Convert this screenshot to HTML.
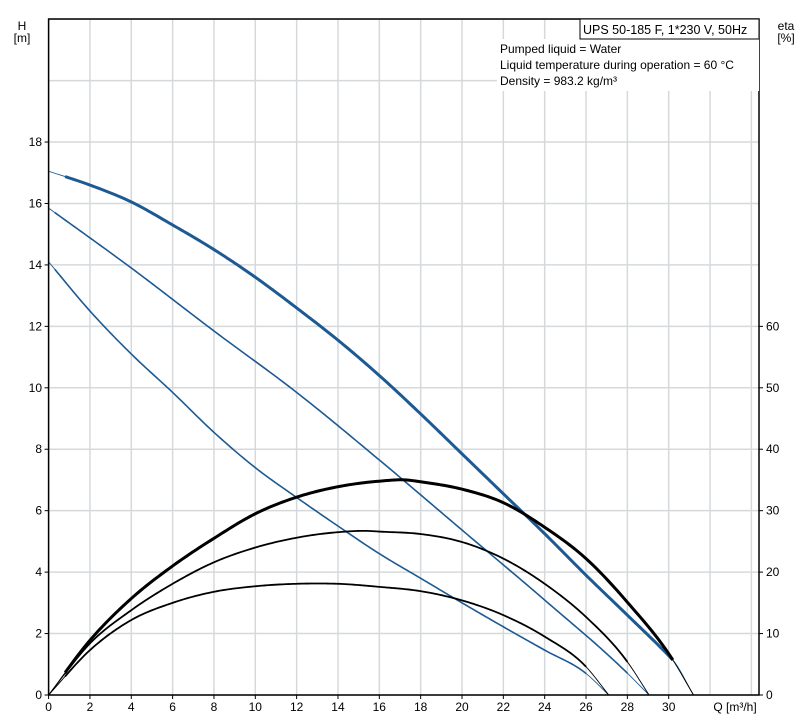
<!DOCTYPE html>
<html><head><meta charset="utf-8"><style>
body{margin:0;background:#fff;}
svg{display:block;font-family:"Liberation Sans",sans-serif;}
</style></head><body>
<svg id="chart" width="806" height="717" viewBox="0 0 806 717">
<g id="grid"></g>
<g id="curves"></g>
<g id="axes"></g>
<rect x="497" y="39" width="262" height="52" fill="#fff"/>
<rect x="580" y="19" width="179" height="20" fill="#fff" stroke="#000" stroke-width="1"/>
<text x="583" y="34" font-size="12.5">UPS 50-185 F, 1*230 V, 50Hz</text>
<text x="500" y="53" font-size="12">Pumped liquid = Water</text>
<text x="500" y="69" font-size="12">Liquid temperature during operation = 60 °C</text>
<text x="500" y="85" font-size="12">Density = 983.2 kg/m³</text>
<text x="22" y="30" font-size="12" text-anchor="middle">H</text>
<text x="22" y="42" font-size="12" text-anchor="middle">[m]</text>
<text x="786" y="30" font-size="12" text-anchor="middle">eta</text>
<text x="786" y="42" font-size="12" text-anchor="middle">[%]</text>
<text x="735" y="711" font-size="12" text-anchor="middle">Q [m³/h]</text>
</svg>
<script>
const xTicks=[0,2,4,6,8,10,12,14,16,18,20,22,24,26,28,30];
const xGrid=[0,2,4,6,8,10,12,14,16,18,20,22,24,26,28,30,32,34];
const yTicks=[0,2,4,6,8,10,12,14,16,18];
const yGrid=[0,2,4,6,8,10,12,14,16,18,20,22];
const etaTicks=[0,10,20,30,40,50,60];

const qH3=[0,2,4,6,8,10,12,14,16,18,20,22,24,26,28,30,30.2,31.2];
const h3=[17.05,16.6,16.05,15.3,14.5,13.6,12.6,11.55,10.4,9.15,7.85,6.55,5.25,3.9,2.6,1.28,1.14,0];
const qH2=[0,4,8,12,16,20,24,28,29.05];
const h2=[15.85,13.9,11.85,9.85,7.65,5.37,3.09,0.71,0];
const qH1=[0,2,4,6,8,10,12,14,16,18,20,22,24,26,27.1];
const h1=[14.1,12.5,11.1,9.85,8.55,7.4,6.43,5.5,4.6,3.8,3.0,2.22,1.46,0.7,0];
const qE3=[0,2,4,6,8,10,12,14,16,17.3,18,20,22,24,26,28,30.2,31.2];
const e3=[0,8.9,15.7,21,25.5,29.5,32.2,33.9,34.8,35,34.7,33.5,31.3,27.3,22.2,15.1,5.7,0];
const qE2=[0,2,4,6,8,10,12,14,15.5,16,18,20,22,24,26,28,29.05];
const e2=[0,8.4,13.8,18.1,21.6,24,25.6,26.5,26.7,26.6,26.2,24.9,22.2,18.1,12.7,5.4,0];
const qE1=[0,2,4,6,8,10,12,13,14,16,18,20,22,24,26,27.1];
const e1=[0,7.3,12.2,15,16.8,17.7,18.1,18.15,18.1,17.6,16.9,15.4,13,9.5,4.6,0];
const thickRanges={h3:[0.8,30.2],h2:[0.3,28.0],h1:[0.3,26.0],e3:[0.8,30.2],e2:[0.8,28.0],e1:[0.8,26.0]};

const X0=48.6,XS=20.67,Y0=695,YS=30.72;
const x=q=>X0+q*XS, y=h=>Y0-h*YS, ye=e=>y(e/5);
const NS='http://www.w3.org/2000/svg';
function mk(tag,attrs,parent){const el=document.createElementNS(NS,tag);for(const k in attrs)el.setAttribute(k,attrs[k]);parent.appendChild(el);return el;}
const grid=document.getElementById('grid'),axes=document.getElementById('axes'),curves=document.getElementById('curves');
xGrid.forEach(v=>{const l=mk('line',{x1:x(v),x2:x(v),y1:19,y2:695,stroke:'#d6d9dc','stroke-width':1.5},grid);

});
yGrid.forEach(v=>{const l=mk('line',{x1:48.6,x2:759,y1:y(v),y2:y(v),stroke:'#d6d9dc','stroke-width':1.5},grid);

});
const frame=mk('path',{d:'M48.6 19 H759 V695 H48.6 Z',fill:'none',stroke:'#000','stroke-width':1.5},axes);


xTicks.forEach(v=>{const t=mk('text',{x:x(v),y:711,'font-size':12,'text-anchor':'middle'},axes);t.textContent=v;


mk('line',{x1:x(v),x2:x(v),y1:695,y2:699,stroke:'#000'},axes);});
yTicks.forEach(v=>{const t=mk('text',{x:42,y:y(v)+4,'font-size':12,'text-anchor':'end'},axes);t.textContent=v;


mk('line',{x1:44.6,x2:48.6,y1:y(v),y2:y(v),stroke:'#000'},axes);});
etaTicks.forEach(v=>{const t=mk('text',{x:766,y:ye(v)+4,'font-size':12},axes);t.textContent=v;


mk('line',{x1:759,x2:763,y1:ye(v),y2:ye(v),stroke:'#000'},axes);});

function spline(qs,vs,q){let i=0;while(i<qs.length-2&&q>qs[i+1])i++;
const x0=qs[i],x1=qs[i+1],t=(q-x0)/(x1-x0);
const m=k=>{if(k<=0)return (vs[1]-vs[0])/(qs[1]-qs[0]);if(k>=qs.length-1)return (vs[k]-vs[k-1])/(qs[k]-qs[k-1]);
const a=(vs[k]-vs[k-1])/(qs[k]-qs[k-1]),b=(vs[k+1]-vs[k])/(qs[k+1]-qs[k]);
const wa=qs[k+1]-qs[k],wb=qs[k]-qs[k-1];return (a*wa+b*wb)/(wa+wb);};
const h=x1-x0,t2=t*t,t3=t2*t;
return (2*t3-3*t2+1)*vs[i]+(t3-2*t2+t)*h*m(i)+(-2*t3+3*t2)*vs[i+1]+(t3-t2)*h*m(i+1);}
function pathFor(qs,vs,a,b,yf){let d='';const n=240;for(let k=0;k<=n;k++){const q=a+(b-a)*k/n;d+=(k?'L':'M')+x(q).toFixed(2)+' '+yf(spline(qs,vs,q)).toFixed(2);}return d;}
function draw(name,qs,vs,yf,color,wThick,range){
const thin=mk('path',{d:pathFor(qs,vs,qs[0],qs[qs.length-1],yf),fill:'none',stroke:color,'stroke-width':0.9},curves);


const th=mk('path',{d:pathFor(qs,vs,range[0],range[1],yf),fill:'none',stroke:color,'stroke-width':wThick},curves);

}
const BLUE='#1d5a93';
draw('head-curve-speed-1',qH1,h1,y,BLUE,1.6,thickRanges.h1);
draw('head-curve-speed-2',qH2,h2,y,BLUE,1.6,thickRanges.h2);
draw('head-curve-speed-3',qH3,h3,y,BLUE,3,thickRanges.h3);
draw('efficiency-curve-speed-1',qE1,e1,ye,'#000',1.8,thickRanges.e1);
draw('efficiency-curve-speed-2',qE2,e2,ye,'#000',1.8,thickRanges.e2);
draw('efficiency-curve-speed-3',qE3,e3,ye,'#000',3,thickRanges.e3);
</script>
</body></html>
